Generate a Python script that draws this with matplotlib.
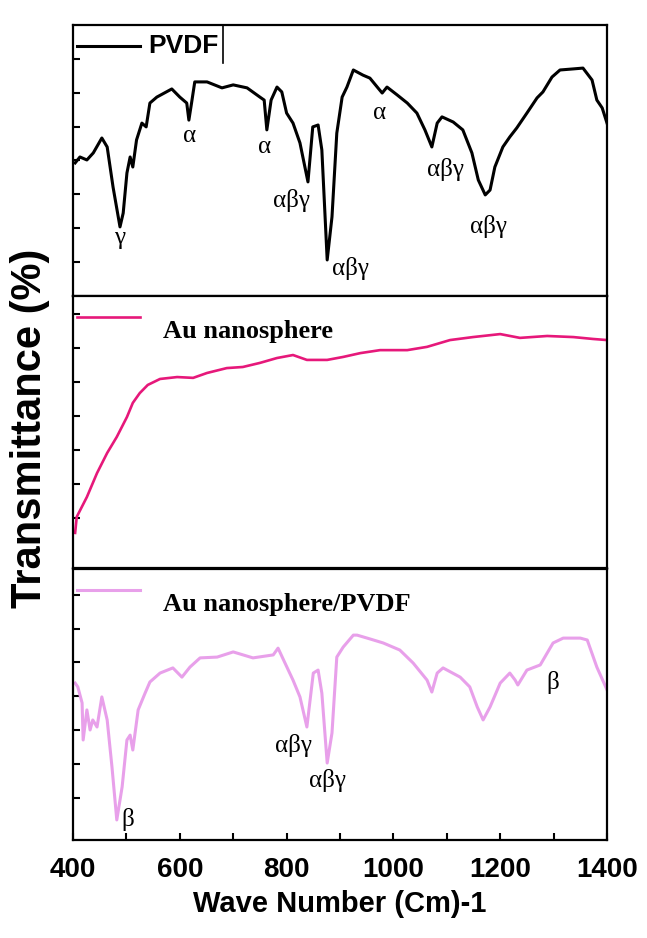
import numpy as np
import matplotlib
matplotlib.use('Agg')
import matplotlib.pyplot as plt
from matplotlib.ticker import MultipleLocator

# ---- data (transmittance, arbitrary units 0-100 per panel)
pvdf_wn = [404, 413, 426, 438, 454, 464, 475, 488, 494, 501, 507, 512, 519, 529, 537, 544,
           557, 585, 600, 613, 617, 622, 628, 651, 679, 700, 726, 750, 758, 763, 771, 782,
           791, 800, 812, 825, 840, 849, 859, 866, 876, 885, 894, 904, 913, 925, 943, 956,
           971, 979, 988, 1007, 1026, 1044, 1059, 1072, 1082, 1091, 1112, 1130, 1147, 1159,
           1172, 1181, 1190, 1205, 1218, 1231, 1250, 1269, 1280, 1297, 1312, 1337, 1355,
           1372, 1381, 1391, 1400]
pvdf_t = [49.1, 51.3, 50.2, 52.8, 58.3, 55.0, 40.2, 25.5, 30.6, 45.4, 51.3, 47.6, 57.6, 63.8,
          62.4, 71.2, 73.4, 76.4, 73.4, 71.2, 64.9, 71.2, 79.0, 79.0, 76.8, 77.9, 76.8, 73.4,
          72.3, 61.3, 72.3, 77.1, 75.3, 67.5, 63.8, 56.5, 42.1, 62.4, 63.1, 53.9, 13.3, 29.2,
          60.1, 73.4, 77.1, 83.4, 81.5, 80.4, 76.8, 74.9, 77.1, 74.2, 71.2, 67.5, 61.3, 55.0,
          63.8, 66.1, 64.2, 61.3, 52.8, 42.8, 37.3, 39.1, 47.6, 55.0, 58.7, 62.0, 67.5, 73.1,
          75.3, 80.8, 83.4, 83.8, 84.1, 79.7, 72.3, 69.4, 63.8]

au_wn = [404, 407, 426, 445, 464, 482, 501, 512, 525, 540, 563, 595, 625, 651, 688, 718,
         750, 782, 812, 838, 876, 906, 938, 975, 1026, 1063, 1106, 1149, 1200, 1237, 1288,
         1337, 1374, 1400]
au_t = [12.9, 18.8, 26.1, 34.9, 42.3, 48.2, 55.5, 60.7, 64.3, 67.3, 69.5, 70.2, 69.9, 71.7,
        73.5, 73.9, 75.4, 77.2, 78.3, 76.5, 76.5, 77.6, 79.0, 80.1, 80.1, 81.3, 83.8, 84.9,
        86.0, 84.6, 85.3, 84.9, 84.2, 83.8]

mix_wn = [404, 409, 417, 419, 426, 432, 437, 445, 454, 464, 473, 482, 492, 501, 507, 512,
          522, 535, 544, 563, 587, 604, 619, 638, 670, 700, 737, 775, 784, 797, 812, 825,
          838, 850, 859, 866, 876, 885, 894, 906, 925, 932, 956, 981, 1012, 1037, 1063, 1072,
          1082, 1093, 1125, 1143, 1157, 1168, 1181, 1200, 1218, 1228, 1233, 1250, 1275, 1288,
          1299, 1318, 1350, 1363, 1381, 1400]
mix_t = [57.9, 56.5, 50.6, 36.9, 48.0, 40.6, 44.3, 41.7, 52.8, 44.3, 26.9, 7.4, 19.6, 36.9,
         38.7, 33.2, 48.0, 54.2, 58.3, 61.6, 63.5, 60.1, 63.8, 67.2, 67.5, 69.4, 67.2, 68.3,
         70.8, 65.3, 59.0, 52.8, 41.7, 61.6, 62.7, 54.2, 28.4, 39.5, 67.5, 71.2, 75.6, 75.6,
         74.2, 72.7, 70.1, 65.3, 59.0, 54.6, 61.6, 63.5, 60.1, 56.5, 49.1, 44.3, 49.1, 57.9,
         61.6, 59.0, 57.2, 62.7, 64.6, 69.0, 72.7, 74.5, 74.5, 73.8, 63.8, 55.4]

# peak labels (wavenumber, transmittance, text)
pvdf_peaks = [(488, 21.4, 'γ'), (619, 59.0, 'α'), (758, 55.0, 'α'), (810, 35.4, 'αβγ'),
              (919, 10.3, 'αβγ'), (975, 67.5, 'α'), (1097, 46.5, 'αβγ'), (1179, 25.5, 'αβγ')]
mix_peaks = [(503, 7.4, 'β'), (812, 35.0, 'αβγ'), (876, 22.0, 'αβγ'), (1299, 58.0, 'β')]

xticks = [400, 600, 800, 1000, 1200, 1400]

SANS = 'Liberation Sans'
SERIF = 'Liberation Serif'

fig = plt.figure(figsize=(6.47, 9.38), dpi=100)
left, width = 73 / 647, 534 / 647
ax_top = fig.add_axes([left, 642 / 938, width, 271 / 938])
ax_mid = fig.add_axes([left, 370 / 938, width, 272 / 938])
ax_bot = fig.add_axes([left, 98 / 938, width, 271 / 938])

panels = [
    (ax_top, pvdf_wn, pvdf_t, 'black', 2.2, 'PVDF', 0.0),
    (ax_mid, au_wn, au_t, '#e6187a', 1.9, 'Au nanosphere', 6.0),
    (ax_bot, mix_wn, mix_t, '#e8a0ea', 2.2, 'Au nanosphere/PVDF', 3.0),
]

for ax, wn, t, col, lw, name, yoff in panels:
    ax.plot(wn, t, color=col, lw=lw, solid_joinstyle='round')
    ax.set_xlim(400, 1400)
    ax.set_ylim(0, 100)
    ax.set_yticks(np.arange(yoff + 12.5, 100, 12.5))
    ax.set_yticklabels([])
    ax.tick_params(axis='y', direction='in', length=5, width=1.5)
    for s in ax.spines.values():
        s.set_linewidth(1.6)
    # legend entry
    if name == 'PVDF':
        ax.plot([0.0075, 0.125], [0.9225, 0.9225], transform=ax.transAxes, color=col, lw=lw)
        ax.text(0.14, 0.9225, name, transform=ax.transAxes, va='center', ha='left',
                fontsize=19, fontweight='bold', family=SANS)
        ax.plot([0.281, 0.281], [0.86, 1.0], transform=ax.transAxes, color='black', lw=1.2)
    else:
        ax.plot([0.0075, 0.125], [0.924, 0.924], transform=ax.transAxes, color=col, lw=lw)
        ax.text(0.1685, 0.868, name, transform=ax.transAxes, va='center', ha='left',
                fontsize=19, fontweight='bold', family=SERIF,
                bbox=dict(facecolor='white', edgecolor='none', pad=1))

for ax in (ax_top, ax_mid):
    ax.set_xticks([])

ax_bot.set_xticks(xticks)
ax_bot.xaxis.set_minor_locator(MultipleLocator(100))
ax_bot.tick_params(axis='x', which='both', direction='in', length=5, width=1.5, pad=12)
ax_bot.set_xticklabels([str(v) for v in xticks], fontsize=20, fontweight='bold', family=SANS)
ax_bot.set_xlabel('Wave Number (Cm)-1', fontsize=21, fontweight='bold', family=SANS, labelpad=5)

for w, v, s in pvdf_peaks:
    ax_top.text(w, v, s, ha='center', va='center', fontsize=18, family=SERIF)
for w, v, s in mix_peaks:
    ax_bot.text(w, v, s, ha='center', va='center', fontsize=18, family=SERIF)

fig.text(30 / 647, 1 - 428 / 938, 'Transmittance (%)', rotation=90, ha='center', va='center',
         fontsize=30, fontweight='bold', family=SANS)

fig.savefig('out.png', dpi=100, facecolor='white')
